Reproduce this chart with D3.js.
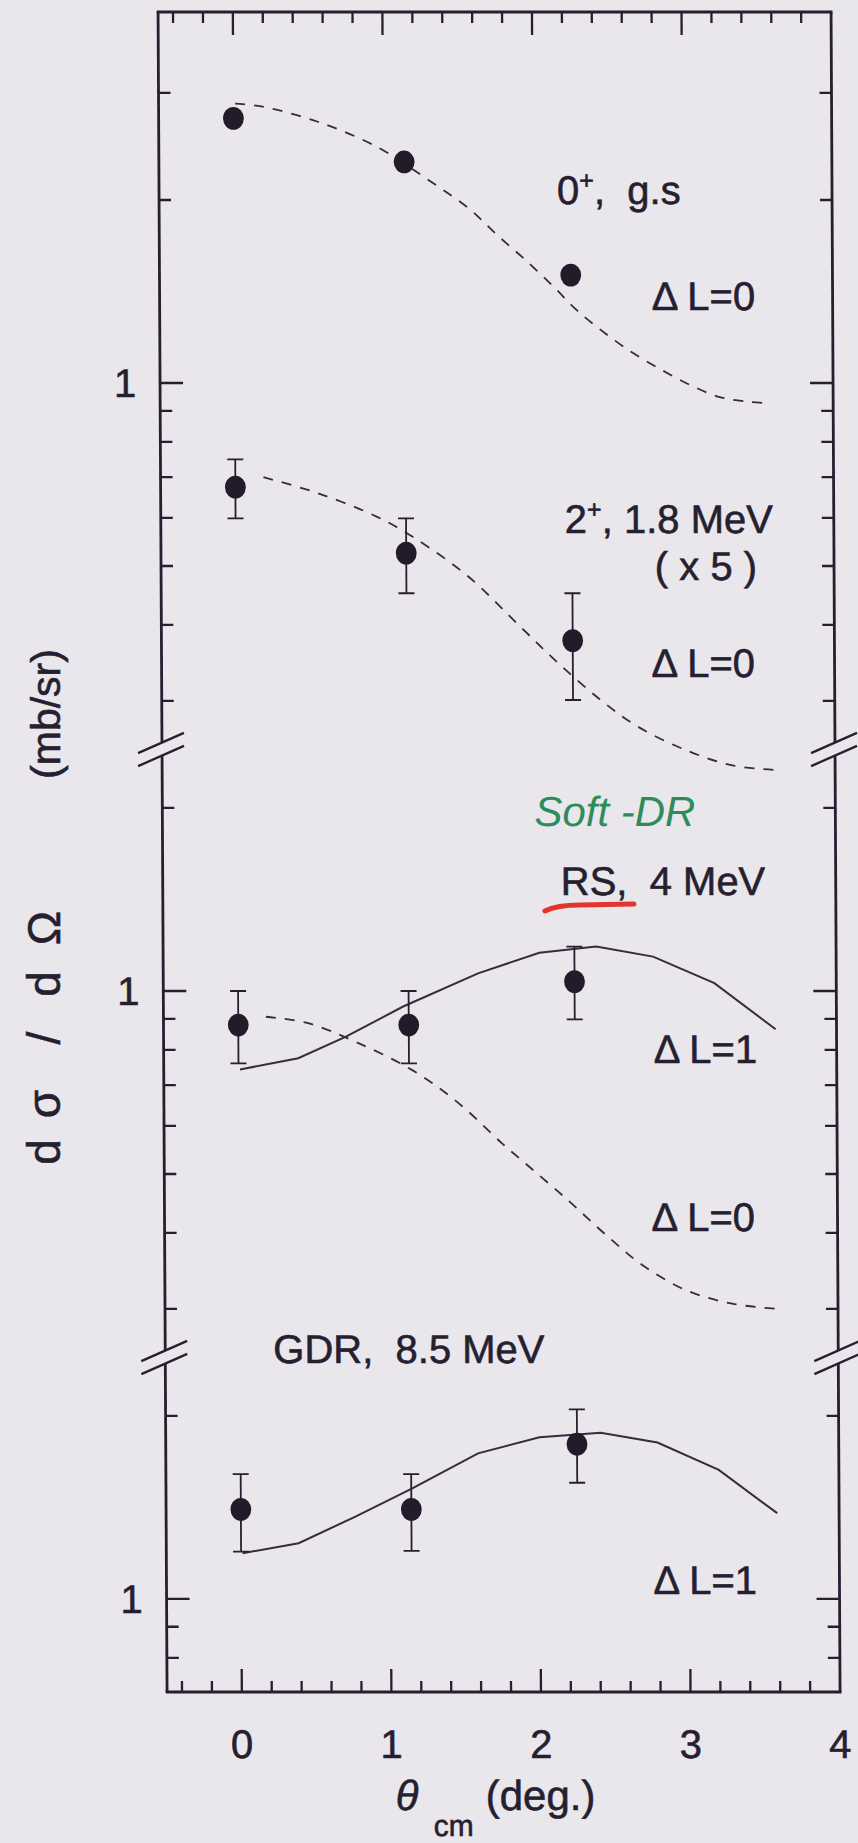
<!DOCTYPE html>
<html>
<head>
<meta charset="utf-8">
<script src="https://cdn.jsdelivr.net/npm/d3@7"></script>
<style>
  html, body { margin: 0; padding: 0; background: #e9e6ec; }
  svg { display: block; }
  text { font-family: "Liberation Sans", Arial, Helvetica, sans-serif; fill: #261f30; }
  .ink { stroke: #261f30; stroke-width: 0.6; paint-order: stroke; }
</style>
</head>
<body>
<script>
// ---- measured angular distributions (theta_cm in degrees, dσ/dΩ in mb/sr) ----
const thetaMeas = [0.0, 1.14, 2.25];

const gsValues     = [2.725, 2.31, 1.505];          // 0+, g.s
const twoPlusValues = [0.674, 0.525, 0.377];        // 2+, 1.8 MeV (x5)
const twoPlusLow    = [0.599, 0.451, 0.301];
const twoPlusHigh   = [0.749, 0.599, 0.451];
const rsValues  = [0.879, 0.879, 1.036];            // RS, 4 MeV
const rsLow     = [0.76, 0.76, 0.898];
const rsHigh    = [1.0, 1.0, 1.183];
const gdrValues = [1.404, 1.404, 1.797];            // GDR, 8.5 MeV
const gdrLow    = [1.196, 1.2, 1.553];
const gdrHigh   = [1.605, 1.605, 2.05];

// ---- DWBA curves ----
const gsCurveTheta = [0.012, 0.186, 0.563, 0.957, 1.319, 1.57, 1.759, 1.947, 2.135, 2.289, 2.478, 2.667, 2.857, 3.046, 3.236, 3.426, 3.586];
const gsCurveValue = [2.88, 2.85, 2.69, 2.447, 2.143, 1.938, 1.752, 1.594, 1.44, 1.318, 1.207, 1.119, 1.05, 0.992, 0.949, 0.932, 0.926];

const twoPlusCurveTheta = [0.188, 0.55, 0.943, 1.181, 1.556, 1.902, 2.153, 2.435, 2.684, 3.003, 3.313, 3.602];
const twoPlusCurveValue = [0.70, 0.659, 0.603, 0.559, 0.48, 0.397, 0.346, 0.301, 0.272, 0.249, 0.235, 0.231];

const rsL0Theta = [0.185, 0.468, 0.783, 1.162, 1.47, 1.759, 1.914, 2.197, 2.476, 2.695, 2.984, 3.293, 3.593];
const rsL0Value = [0.907, 0.885, 0.825, 0.741, 0.654, 0.5616, 0.5206, 0.453, 0.392, 0.354, 0.322, 0.306, 0.30];

const rsL1Theta = [0.01, 0.40, 0.72, 1.10, 1.605, 2.016, 2.396, 2.776, 3.185, 3.593];
const rsL1Value = [0.743, 0.775, 0.841, 0.942, 1.069, 1.156, 1.183, 1.139, 1.03, 0.865];

const gdrL1Theta = [0.01, 0.385, 0.766, 1.147, 1.588, 1.999, 2.409, 2.788, 3.197, 3.586];
const gdrL1Value = [1.189, 1.235, 1.366, 1.52, 1.736, 1.845, 1.877, 1.808, 1.63, 1.384];

// ---- axes ----
const xTickLabels = ["0", "1", "2", "3", "4"];
const topTicks = [3, 2, 1, 0.9, 0.8, 0.7, 0.6, 0.5, 0.4, 0.3];
const midTicks = [2, 1, 0.9, 0.8, 0.7, 0.6, 0.5, 0.4, 0.3];
const lowTicks = [2, 1, 0.9, 0.8];
const panelDecade = [1, 0.1, 0.01];   // each panel is one decade lower on the common log axis
const breakValue = 0.25;              // axis break below the top and middle panels
const yTickLabel = "1";
// y-axis title pieces, read bottom to top
const yTitleParts = ["d", "σ", "/", "d", "Ω", "(mb/sr)"];

const W = 858, H = 1843;
const ink = "#261f30";
const fontSize = 40;

const svg = d3.select("body").append("svg")
  .attr("width", W).attr("height", H)
  .attr("viewBox", `0 0 ${W} ${H}`);

svg.append("rect").attr("width", W).attr("height", H).attr("fill", "#e9e6ec");

// the whole figure leans very slightly
const g = svg.append("g").attr("transform", "skewX(0.307)");

const x = d3.scaleLinear().domain([-0.5, 4]).range([158, 831]);
const yAll = d3.scaleLog().domain([4.076, 0.00703]).range([12, 1692]);
const yP = (panel, v) => yAll(v * panelDecade[panel]);

const frameL = x.range()[0], frameR = x.range()[1];
const frameT = yAll.range()[0], frameB = yAll.range()[1];

// ---- frame with axis breaks ----
const breaks = [yP(0, breakValue), yP(1, breakValue)];
const gapHalf = 6.5;
const frame = g.append("g").attr("stroke", ink).attr("stroke-width", 2.8).attr("fill", "none");
frame.append("line").attr("x1", frameL - 1.4).attr("x2", frameR + 1.4).attr("y1", frameT).attr("y2", frameT);
frame.append("line").attr("x1", frameL - 1.4).attr("x2", frameR + 1.4).attr("y1", frameB).attr("y2", frameB);
const segs = [[frameT, breaks[0] - gapHalf], [breaks[0] + gapHalf, breaks[1] - gapHalf], [breaks[1] + gapHalf, frameB]];
[frameL, frameR].forEach(ax => {
  segs.forEach(([a, b]) => {
    frame.append("line").attr("x1", ax).attr("x2", ax).attr("y1", a).attr("y2", b);
  });
  breaks.forEach(yc => {
    [-gapHalf, gapHalf].forEach(off => {
      const yc2 = yc + off;
      frame.append("line")
        .attr("stroke-width", 2.3)
        .attr("x1", ax - 24).attr("y1", yc2 + 24 * 0.44)
        .attr("x2", ax + 22).attr("y2", yc2 - 22 * 0.44);
    });
  });
});

// ---- x ticks (inner, top and bottom) ----
const xMinor = x.ticks(22).filter(v => v > -0.5 && v < 4);
const ticks = g.append("g").attr("stroke", ink).attr("stroke-width", 2.3);
xMinor.forEach(v => {
  const major = Math.abs(v - Math.round(v)) < 1e-6;
  const len = major ? 23 : 11;
  ticks.append("line").attr("x1", x(v)).attr("x2", x(v)).attr("y1", frameT).attr("y2", frameT + len);
  ticks.append("line").attr("x1", x(v)).attr("x2", x(v)).attr("y1", frameB).attr("y2", frameB - len);
});

// ---- y ticks (inner, left and right) ----
[topTicks, midTicks, lowTicks].forEach((list, p) => {
  list.forEach(v => {
    const len = v === 1 ? 23 : 12;
    const yy = yP(p, v);
    ticks.append("line").attr("x1", frameL).attr("x2", frameL + len).attr("y1", yy).attr("y2", yy);
    ticks.append("line").attr("x1", frameR).attr("x2", frameR - len).attr("y1", yy).attr("y2", yy);
  });
  g.append("text").attr("class", "ink")
    .attr("x", frameL - 24).attr("y", yP(p, 1) + 14)
    .attr("text-anchor", "end")
    .attr("font-size", fontSize)
    .text(yTickLabel);
});

// ---- x tick labels ----
xTickLabels.forEach(t => {
  g.append("text").attr("class", "ink")
    .attr("x", x(+t)).attr("y", 1758)
    .attr("text-anchor", "middle")
    .attr("font-size", fontSize)
    .text(t);
});

// ---- axis titles ----
const xt = g.append("text").attr("class", "ink").attr("y", 1810).attr("font-size", 42);
xt.append("tspan").attr("x", 386).attr("font-style", "italic").text("θ");
xt.append("tspan").attr("x", 424).attr("y", 1836).attr("font-size", 30).text("cm");
xt.append("tspan").attr("x", 476).attr("y", 1810).text("(deg.)");

// rotated y title: each piece centred at its own height
const yTitleCentres = [1152, 1104, 1038, 984, 928, 714];
const yt = svg.append("text").attr("class", "ink")
  .attr("transform", "translate(60,0) rotate(-90)")
  .attr("font-size", 44)
  .attr("text-anchor", "middle");
yTitleParts.forEach((s, i) => {
  yt.append("tspan").attr("x", -yTitleCentres[i]).attr("y", 0)
    .attr("font-size", i === yTitleParts.length - 1 ? 41 : 46)
    .text(s);
});

// ---- curves ----
const curveLayer = g.append("g").attr("fill", "none").attr("stroke", "#342d3d");
function drawCurve(panel, thetas, values, dashed) {
  const pts = thetas.map((t, i) => [x(t), yP(panel, values[i])]);
  curveLayer.append("path")
    .attr("d", d3.line().curve(dashed ? d3.curveCatmullRom : d3.curveLinear)(pts))
    .attr("stroke-width", dashed ? 1.8 : 2.0)
    .attr("stroke-dasharray", dashed ? "10,9" : null);
}
drawCurve(0, gsCurveTheta, gsCurveValue, true);
drawCurve(0, twoPlusCurveTheta, twoPlusCurveValue, true);
drawCurve(1, rsL0Theta, rsL0Value, true);
drawCurve(1, rsL1Theta, rsL1Value, false);
drawCurve(2, gdrL1Theta, gdrL1Value, false);

// ---- data points with error bars ----
const dataLayer = g.append("g");
function drawData(panel, values, low, high) {
  values.forEach((v, i) => {
    const cx = x(thetaMeas[i]);
    if (low) {
      const y1 = yP(panel, low[i]), y2 = yP(panel, high[i]);
      const eb = dataLayer.append("g").attr("stroke", ink).attr("stroke-width", 1.8);
      eb.append("line").attr("x1", cx).attr("x2", cx).attr("y1", y1).attr("y2", y2);
      eb.append("line").attr("x1", cx - 8).attr("x2", cx + 8).attr("y1", y1).attr("y2", y1);
      eb.append("line").attr("x1", cx - 8).attr("x2", cx + 8).attr("y1", y2).attr("y2", y2);
    }
    dataLayer.append("ellipse")
      .attr("cx", cx).attr("cy", yP(panel, v))
      .attr("rx", 10.4).attr("ry", 11.4)
      .attr("fill", "#221b2a");
  });
}
drawData(0, gsValues, null, null);
drawData(0, twoPlusValues, twoPlusLow, twoPlusHigh);
drawData(1, rsValues, rsLow, rsHigh);
drawData(2, gdrValues, gdrLow, gdrHigh);

// ---- labels ----
const labels = g.append("g").attr("font-size", fontSize);
function sup(el, base, s, rest) {
  el.append("tspan").text(base);
  el.append("tspan").attr("font-size", 25).attr("dy", -15).text(s);
  el.append("tspan").attr("dy", 15).text(rest);
}
function label(xp, yp, txt, anchor) {
  return labels.append("text").attr("class", "ink")
    .attr("x", xp).attr("y", yp)
    .attr("text-anchor", anchor || "start")
    .style("white-space", "pre")
    .text(txt);
}
sup(labels.append("text").attr("class", "ink").attr("x", 556).attr("y", 204).style("white-space", "pre"), "0", "+", ",  g.s");
label(650, 310, "Δ L=0");
sup(labels.append("text").attr("class", "ink").attr("x", 562).attr("y", 533).style("white-space", "pre"), "2", "+", ", 1.8 MeV");
label(754, 580, "( x 5 )", "end");
label(648, 677, "Δ L=0");
label(556, 895, "RS,  4 MeV");
label(648, 1063, "Δ L=1");
label(645, 1231, "Δ L=0");
label(266, 1363, "GDR,  8.5 MeV");
label(645, 1594, "Δ L=1");

// handwritten note and underline
g.append("text")
  .attr("x", 530).attr("y", 826)
  .attr("font-family", "DejaVu Sans")
  .attr("font-style", "italic")
  .attr("font-size", 42)
  .style("fill", "#2d8c5c")
  .style("white-space", "pre")
  .text("Soft -DR");
g.append("path")
  .attr("d", "M540,911 Q552,905 575,905 L629,904")
  .attr("fill", "none")
  .attr("stroke", "#e3342f")
  .attr("stroke-width", 5)
  .attr("stroke-linecap", "round");
</script>
</body>
</html>
